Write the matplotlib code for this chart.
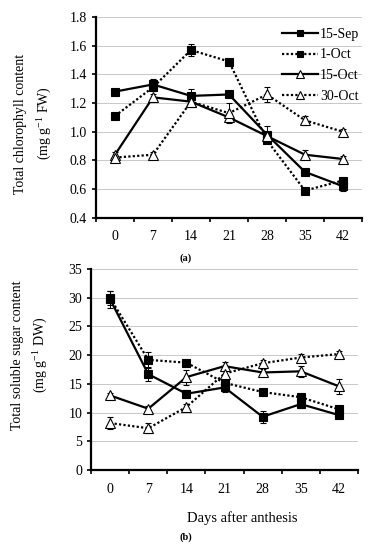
import matplotlib.pyplot as plt
from matplotlib.lines import Line2D
import numpy as np

plt.rcParams['font.family'] = ['Liberation Serif', 'DejaVu Serif']

dias = [0, 7, 14, 21, 28, 35, 42]
series = ['15-Sep', '1-Oct', '15-Oct', '30-Oct']

# (a) clorofila total
clor = {
    '15-Sep': [1.28, 1.33, 1.25, 1.26, 0.98, 0.72, 0.62],
    '1-Oct': [1.11, 1.31, 1.57, 1.49, 0.94, 0.59, 0.66],
    '15-Oct': [0.84, 1.24, 1.21, 1.10, 0.97, 0.84, 0.81],
    '30-Oct': [0.82, 0.84, 1.21, 1.13, 1.26, 1.08, 1.00],
}
clor_err = {
    '15-Sep': [0.01, 0.04, 0.05, 0.02, 0.06, 0.01, 0.03],
    '1-Oct': [0.01, 0.02, 0.04, 0.02, 0.02, 0.01, 0.02],
    '15-Oct': [0.02, 0.02, 0.02, 0.03, 0.03, 0.03, 0.02],
    '30-Oct': [0.01, 0.02, 0.02, 0.07, 0.05, 0.03, 0.02],
}

# (b) azucares solubles
azuc = {
    '15-Sep': [29.7, 16.7, 13.3, 14.4, 9.3, 11.5, 9.6],
    '1-Oct': [29.9, 19.2, 18.7, 15.2, 13.6, 12.7, 10.6],
    '15-Oct': [13.0, 10.7, 16.2, 18.1, 17.0, 17.2, 14.6],
    '30-Oct': [8.2, 7.3, 11.0, 16.8, 18.6, 19.6, 20.2],
}
azuc_err = {
    '15-Sep': [1.5, 1.2, 0.6, 0.8, 1.0, 0.6, 0.5],
    '1-Oct': [1.2, 1.4, 0.4, 0.6, 0.4, 0.4, 0.4],
    '15-Oct': [0.5, 0.5, 1.3, 0.8, 0.6, 1.0, 1.3],
    '30-Oct': [1.0, 0.9, 0.6, 0.8, 0.5, 0.6, 0.5],
}

punteado = (0, (1, 1))
estilos = {
    '15-Sep': dict(ls='-', marker='s', mfc='black', ms=5.5),
    '1-Oct': dict(ls=punteado, marker='s', mfc='black', ms=5.5),
    '15-Oct': dict(ls='-', marker='^', mfc='white', ms=7),
    '30-Oct': dict(ls=punteado, marker='^', mfc='white', ms=7),
}

fig = plt.figure(figsize=(3.72, 5.5), dpi=100)
ax1 = fig.add_axes([0.258, 0.604, 0.715, 0.365])
ax2 = fig.add_axes([0.245, 0.145, 0.717, 0.366])


def dibujar(ax, datos, errores, ylim, yticks):
    x = np.arange(len(dias))
    for s in series:
        ax.errorbar(x, datos[s], yerr=errores[s], color='black', lw=1.6,
                    mec='black', mew=0.8, elinewidth=0.7, capsize=2,
                    capthick=0.7, **estilos[s])
    ax.set_xlim(-0.5, len(dias) - 0.5)
    ax.set_ylim(*ylim)
    ax.set_yticks(yticks)
    ax.set_xticks(x)
    ax.set_xticklabels([str(d) for d in dias])
    ax.set_xticks(np.arange(-0.5, len(dias), 1.0), minor=True)
    ax.tick_params(axis='x', which='major', length=0, labelsize=10, pad=9)
    ax.tick_params(axis='x', which='minor', length=3, width=1.2, direction='out')
    ax.tick_params(axis='y', length=3, width=1.2, labelsize=10, direction='out')
    ax.grid(axis='y', color='#c8c8c8', lw=0.7)
    ax.set_axisbelow(True)
    for lado in ['top', 'right']:
        ax.spines[lado].set_visible(False)
    for lado in ['left', 'bottom']:
        ax.spines[lado].set_linewidth(1.6)


dibujar(ax1, clor, clor_err, (0.4, 1.8), np.arange(0.4, 1.81, 0.2))
ax1.set_yticklabels(['%.1f' % v for v in np.arange(0.4, 1.81, 0.2)])
ax1.set_ylabel('Total chlorophyll content\n(mg g$^{\\mathregular{-1}}$ FW)', fontsize=10,
               linespacing=1.45, va='center')
ax1.yaxis.set_label_coords(-0.235, 0.47)

manejadores = []
for s in series:
    e = dict(estilos[s])
    e['ms'] = e['ms'] - 1
    manejadores.append(Line2D([], [], color='black', lw=1.6, mec='black', mew=0.8, **e))
ax1.legend(manejadores, series, loc='upper right', bbox_to_anchor=(1.0, 0.96),
           frameon=False, fontsize=10, handlelength=2.6, labelspacing=0.55,
           borderaxespad=0.0, handletextpad=0.15, borderpad=0.2)

dibujar(ax2, azuc, azuc_err, (0, 35), np.arange(0, 36, 5))
ax2.set_ylabel('Total soluble sugar content\n(mg g$^{\\mathregular{-1}}$ DW)', fontsize=10,
               linespacing=1.45, va='center')
ax2.yaxis.set_label_coords(-0.228, 0.572)

fig.text(0.5, 0.531, '(a)', ha='center', va='center', fontsize=7.5, fontweight='bold')
fig.text(0.65, 0.058, 'Days after anthesis', ha='center', va='center', fontsize=10.5)
fig.text(0.5, 0.024, '(b)', ha='center', va='center', fontsize=7.5, fontweight='bold')

fig.savefig('out.png', dpi=100)
